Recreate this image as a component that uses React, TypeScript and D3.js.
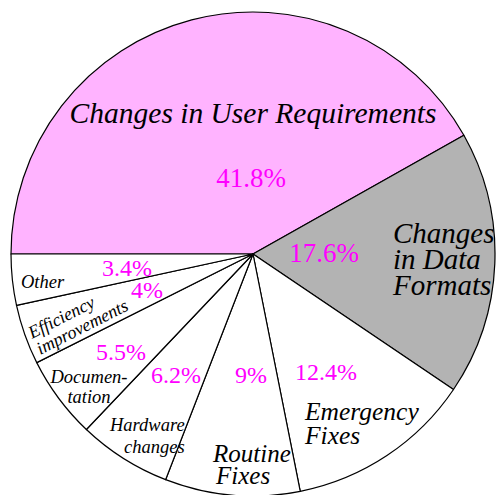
import React from "react";
import * as d3 from "d3";

const categories = [
  "Changes in User Requirements",
  "Changes in Data Formats",
  "Emergency Fixes",
  "Routine Fixes",
  "Hardware changes",
  "Documentation",
  "Efficiency improvements",
  "Other",
];
const values = [41.8, 17.6, 12.4, 9, 6.2, 5.5, 4, 3.4];
const percentLabels = ["41.8%", "17.6%", "12.4%", "9%", "6.2%", "5.5%", "4%", "3.4%"];
const nameLines = [
  ["Changes in User Requirements"],
  ["Changes", "in Data", "Formats"],
  ["Emergency", "Fixes"],
  ["Routine", "Fixes"],
  ["Hardware", "changes"],
  ["Documen-", "tation"],
  ["Efficiency", "improvements"],
  ["Other"],
];

// styling / layout (not data)
const FONT = "Liberation Serif, DejaVu Serif, serif";
const fills = ["#ffb3ff", "#b3b3b3", "#ffffff", "#ffffff", "#ffffff", "#ffffff", "#ffffff", "#ffffff"];
const W = 498, H = 495;
const CX = 253, CY = 254, R = 242;

// percent label layout: [x, y, anchor, size]
const pctLayout: [number, number, string, number][] = [
  [251, 187, "middle", 27],
  [324, 262, "middle", 27],
  [326, 380, "middle", 24],
  [235, 383, "start", 24],
  [151, 383, "start", 24],
  [96, 360, "start", 24],
  [131, 298, "start", 24],
  [102, 276, "start", 24],
];
// name label layout (per-line x offsets and y offsets)
const nameLayout: { x: number; y: number; anchor: string; size: number; rot: number; lx: number[]; ly: number[] }[] = [
  { x: 253, y: 123, anchor: "middle", size: 29.5, rot: 0, lx: [0], ly: [0] },
  { x: 393, y: 243, anchor: "start", size: 29, rot: 0, lx: [0, 0, 0], ly: [0, 26, 52] },
  { x: 305, y: 420, anchor: "start", size: 25.5, rot: 0, lx: [0, 0], ly: [0, 24] },
  { x: 213, y: 462, anchor: "start", size: 25, rot: 0, lx: [0, 3], ly: [0, 22] },
  { x: 110, y: 431, anchor: "start", size: 18.5, rot: 0, lx: [0, 14], ly: [0, 22] },
  { x: 89, y: 383, anchor: "middle", size: 18.5, rot: 0, lx: [0, 0], ly: [0, 20] },
  { x: 32, y: 339, anchor: "start", size: 18, rot: -27, lx: [0, 0], ly: [0, 18] },
  { x: 21, y: 288, anchor: "start", size: 18.5, rot: 0, lx: [0], ly: [0] },
];

export default function App() {
  const pie = d3
    .pie<number>()
    .sort(null)
    .startAngle(-Math.PI / 2)
    .endAngle((3 * Math.PI) / 2)(values);
  const arc = d3.arc<d3.PieArcDatum<number>>().innerRadius(0).outerRadius(R);

  return (
    <svg
      width={W}
      height={H}
      style={{ position: "absolute", left: 0, top: 0, background: "#fff" }}
    >
      <g transform={`translate(${CX},${CY})`}>
        {pie.map((d, i) => (
          <path
            key={categories[i]}
            d={arc(d) || ""}
            fill={fills[i]}
            stroke="#000"
            strokeWidth={1.2}
            strokeLinejoin="round"
          />
        ))}
      </g>
      {nameLayout.map((l, i) => (
        <text
          key={"n" + i}
          transform={`translate(${l.x},${l.y}) rotate(${l.rot})`}
          textAnchor={l.anchor}
          fontFamily={FONT}
          fontStyle="italic"
          fontSize={l.size}
          fill="#000"
        >
          {nameLines[i].map((line, j) => (
            <tspan key={j} x={l.lx[j]} y={l.ly[j]}>
              {line}
            </tspan>
          ))}
        </text>
      ))}
      {pctLayout.map((p, i) => (
        <text
          key={"p" + i}
          x={p[0]}
          y={p[1]}
          textAnchor={p[2]}
          fontFamily={FONT}
          fontSize={p[3]}
          fill="#ff00ff"
        >
          {percentLabels[i]}
        </text>
      ))}
    </svg>
  );
}
